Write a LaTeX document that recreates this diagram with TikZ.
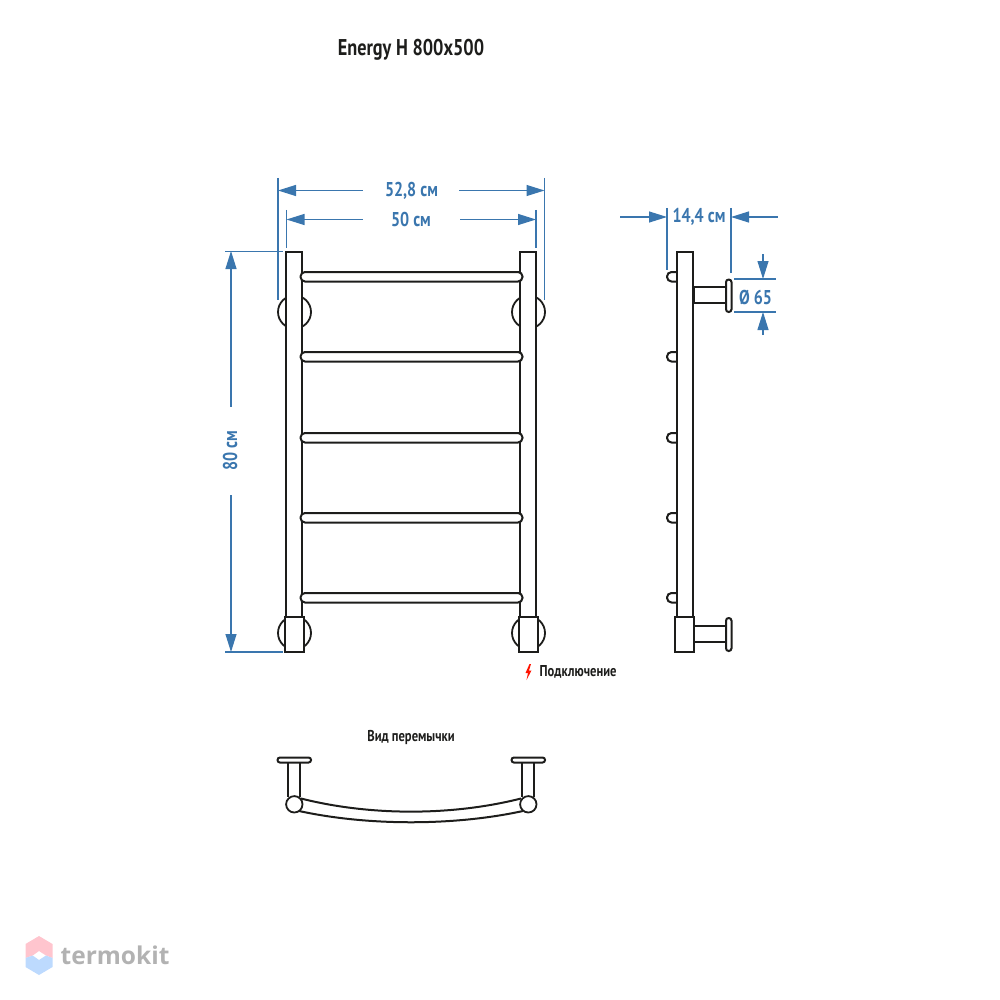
\documentclass[tikz,border=0pt]{standalone}
\usepackage{fontspec}
\setmainfont{PT Sans}[FakeStretch=0.8]
\newfontfamily\logofont{Open Sans}
\usetikzlibrary{arrows.meta}
\definecolor{dimblue}{HTML}{3A76AE}
\definecolor{inkblack}{HTML}{1D1D1B}
\definecolor{logopink}{HTML}{FFC5CE}
\definecolor{logoblue}{HTML}{BDDAFE}

\begin{document}
\begin{tikzpicture}[x=1pt,y=-1pt,>={Triangle[length=18pt,width=11pt]}]
        \tikzstyle{tube}=[draw=inkblack,line width=2pt,fill=white]
        \tikzstyle{ring}=[draw=inkblack,line width=1.8pt,fill=white]
        \tikzstyle{dim}=[draw=dimblue,line width=1.2pt]
        \tikzstyle{dimtext}=[text=dimblue,font=\fontsize{20}{20}\selectfont\bfseries,inner sep=0pt]
        \tikzstyle{caption}=[text=inkblack,font=\fontsize{15.7}{16}\selectfont\bfseries,inner sep=0pt]
        \useasboundingbox (0,0) rectangle (1000,1000);
        % title and captions
        \node[caption,font=\fontsize{22.8}{23}\selectfont\bfseries](title) at (411,49.5){Energy H 800x500};
        \node[caption,anchor=west](conn) at (539.5,672){Подключение};
        \node[caption](jumper) at (411,737){Вид перемычки};
        \fill[red!85!orange] (529.5,664) -- (525.5,673) -- (528,673) -- (526.5,680) -- (531.5,670.5) -- (529,670.5) -- (531,664) -- cycle;
        % front view
        \begin{scope}
        \foreach \cx in {294.5,528.5}
            \foreach \cy in {312,633}
                \draw[ring] (\cx,\cy) circle (16.5);
        \foreach \bx in {286,520}{
            \draw[tube] (\bx,617) -- (\bx,252) -- (\bx+16,252) -- (\bx+16,617);
            \draw[tube] (\bx-1,617) rectangle (\bx+18,652);
        }
        \foreach \ry in {272,352,433,513,593}
            \draw[tube,rounded corners=4.5pt] (300.5,\ry) rectangle (522.5,\ry+9.5);
        \end{scope}
        % side view
        \begin{scope}
        \foreach \ry in {272,352,433,513,593}
            \draw[tube,rounded corners=4.5pt] (678,\ry) -- (667,\ry) -- (667,\ry+9.5) -- (678,\ry+9.5);
        \draw[tube] (677,617) -- (677,252) -- (693,252) -- (693,617);
        \draw[tube] (675,617) rectangle (694,652);
        \draw[tube] (694,287) rectangle (726,303);
        \draw[tube] (694,626) rectangle (726,642);
        \draw[tube,rounded corners=2.7pt] (726,279.5) rectangle (731.5,312);
        \draw[tube,rounded corners=2.7pt] (726,618) rectangle (731.5,651);
        \end{scope}
        % jumper view
        \begin{scope}
        \coordinate (jl) at (294.3,804.3);
        \coordinate (jr) at (528.3,804.3);
        \draw[tube,fill=none] (301,798.5) .. controls (370,816) and (452,816) .. (521,798.5);
        \draw[tube,fill=none] (299,811) .. controls (368,826) and (454,826) .. (523,811);
        \foreach \px in {294.5,528.5}{
            \draw[tube,fill=none] (\px-6.5,762) -- (\px-6.5,797);
            \draw[tube,fill=none] (\px+5.5,762) -- (\px+5.5,797);
            \draw[tube,rounded corners=2.4pt] (\px-17,757.5) rectangle (\px+16.5,762.5);
        }
        \draw[ring] (jl) circle (8.2);
        \draw[ring] (jr) circle (8.2);
        \end{scope}
        % sizes
        \node[dimtext](w528) at (411.5,191){52,8 см};
        \node[dimtext](w500) at (411,219){50 см};
        \node[dimtext,rotate=90](h800) at (230,451){80 см};
        \node[dimtext](d144) at (699,217){14,4 см};
        \node[dimtext](d65) at (755.5,297){Ø 65};
        \coordinate (a1) at (278,190.5); \coordinate (a2) at (363,190.5);
        \coordinate (a3) at (459,190.5); \coordinate (a4) at (544.5,190.5);
        \coordinate (b1) at (286.5,219.5); \coordinate (b2) at (363,219.5);
        \coordinate (b3) at (460,219.5); \coordinate (b4) at (536,219.5);
        \coordinate (c1) at (231,251); \coordinate (c2) at (231,407);
        \coordinate (c3) at (231,495); \coordinate (c4) at (231,652);
        \coordinate (e1) at (620,217); \coordinate (e2) at (667,217);
        \coordinate (e3) at (731,217); \coordinate (e4) at (778,217);
        \coordinate (f1) at (763,254); \coordinate (f2) at (763,279);
        \coordinate (f3) at (763,335); \coordinate (f4) at (763,312);
        \draw[dim,<-] (a1) -- (a2);
        \draw[dim,->] (a3) -- (a4);
        \draw[dim,<-] (b1) -- (b2);
        \draw[dim,->] (b3) -- (b4);
        \draw[dim,<-] (c1) -- (c2);
        \draw[dim,->] (c3) -- (c4);
        \draw[dim,->] (e1) -- (e2);
        \draw[dim,<-] (e3) -- (e4);
        \draw[dim,->] (f1) -- (f2);
        \draw[dim,->] (f3) -- (f4);
        % extension lines
        \draw[dim] (278,178) -- (278,300);
        \draw[dim] (544.5,178) -- (544.5,300);
        \draw[dim] (286.5,210) -- (286.5,248);
        \draw[dim] (536,210) -- (536,248);
        \draw[dim] (225,251.5) -- (283,251.5);
        \draw[dim] (225,652) -- (283,652);
        \draw[dim] (667,208) -- (667,270);
        \draw[dim] (731,208) -- (731,273);
        \draw[dim] (734,279) -- (776,279);
        \draw[dim] (734,312) -- (776,312);
        % logo
        \fill[logopink] (39,936) -- (52.5,944) -- (52.5,958) -- (46,955.5) -- (39,951) -- (32.7,955.5) -- (25.5,958) -- (25.5,944) -- cycle;
        \fill[logoblue] (25.5,958) -- (32.7,955.5) -- (39,960) -- (46,955.5) -- (52.5,958) -- (52.5,967) -- (39,975) -- (25.5,967) -- cycle;
        \node[anchor=west,inner sep=0pt,text=black!30,font=\logofont\fontsize{24.5}{25}\selectfont\bfseries](logo) at (60.5,955){termokit};
\end{tikzpicture}
\end{document}
